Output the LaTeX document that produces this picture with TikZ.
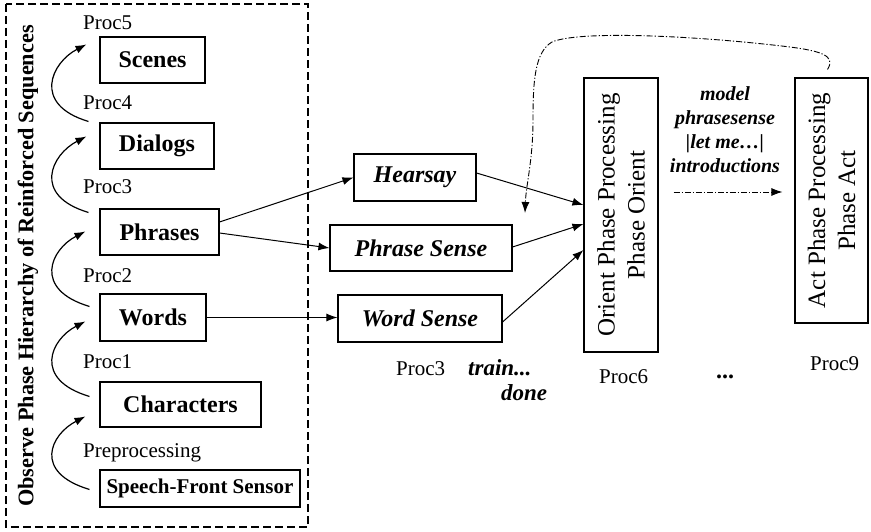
\documentclass[tikz,border=0pt]{standalone}
\usepackage{fontspec}
\setmainfont{Liberation Serif}
\usetikzlibrary{arrows.meta,calc}

\tikzset{
  blk/.style={draw, line width=1.1pt, inner sep=0pt,
    font=\bfseries\fontsize{24}{28}\selectfont},
  senseblk/.style={blk, font=\bfseries\itshape\fontsize{24}{28}\selectfont},
  phaseblk/.style={draw, line width=1.1pt, inner sep=0pt},
  phasetxt/.style={rotate=90, align=center, inner sep=0pt,
    font=\fontsize{25}{30}\selectfont},
  proc/.style={inner sep=0pt, anchor=base west, font=\fontsize{21}{25}\selectfont},
  note/.style={inner sep=0pt, font=\bfseries\itshape\fontsize{23}{27}\selectfont},
  link/.style={line width=1pt, -{Latex[length=11pt,width=8pt]}},
  climb/.style={line width=1.2pt, -{Latex[length=11pt,width=8pt]}},
  dashdot/.style={line width=0.9pt, dash pattern=on 6pt off 2pt on 1.2pt off 2pt},
  frame/.style={line width=1.3pt, dash pattern=on 8pt off 4pt},
}

\begin{document}
\begin{tikzpicture}[x=1pt,y=-1pt]
\useasboundingbox (0,0) rectangle (871,532);

% observe phase frame and its title
\draw[frame] (6,4) rectangle (308,527);
\node[rotate=90, inner sep=0pt, font=\bfseries\fontsize{22.3}{26}\selectfont]
  (observe) at (28,266) {Observe Phase Hierarchy of Reinforced Sequences};

% hierarchy of sequences
\node[blk, minimum width=105pt, minimum height=46pt] (scenes) at (152.5,60) {Scenes};
\node[blk, minimum width=114pt, minimum height=46pt] (dialogs) at (157,146) {Dialogs};
\node[blk, minimum width=119pt, minimum height=46pt] (phrases) at (159.5,232) {Phrases};
\node[blk, minimum width=106pt, minimum height=47pt] (words) at (153,317.5) {Words};
\node[blk, minimum width=161pt, minimum height=45pt] (characters) at (180.5,404.5) {Characters};
\node[blk, minimum width=200pt, minimum height=37pt,
  font=\bfseries\fontsize{21}{25}\selectfont] (speech) at (200,488.5) {Speech-Front Sensor};

\node[proc] (p5) at (83,30) {Proc5};
\node[proc] (p4) at (83,110) {Proc4};
\node[proc] (p3) at (83,194) {Proc3};
\node[proc] (p2) at (83,283) {Proc2};
\node[proc] (p1) at (83,368) {Proc1};
\node[proc] (pre) at (83,457) {Preprocessing};

% climbing arrows between levels
\draw[climb] ($(dialogs.north west)+(-11,-1)$) .. controls +(-57,-17) and +(-35,18) .. ($(scenes.north west)+(-13,8)$);
\draw[climb] ($(phrases.north west)+(-11,4)$) .. controls +(-57,-17) and +(-35,18) .. ($(dialogs.north west)+(-13,14)$);
\draw[climb] ($(words.north west)+(-10,13)$) .. controls +(-57,-17) and +(-35,18) .. ($(phrases.north west)+(-14,23)$);
\draw[climb] ($(characters.north west)+(-10,15)$) .. controls +(-57,-17) and +(-35,18) .. ($(words.north west)+(-14,28)$);
\draw[climb] ($(speech.north west)+(-10,20)$) .. controls +(-57,-17) and +(-35,18) .. ($(characters.north west)+(-14,35)$);

% sense boxes
\node[senseblk, minimum width=122pt, minimum height=47pt] (hearsay) at (415,177.5) {Hearsay};
\node[senseblk, minimum width=182pt, minimum height=46pt] (phrasesense) at (421,248) {Phrase Sense};
\node[senseblk, minimum width=164pt, minimum height=47pt] (wordsense) at (420,318.5) {Word Sense};

\node[proc] (pmid) at (396,375) {Proc3};
\node[note, anchor=base west] (train) at (468,375) {train...};
\node[note, anchor=base west] (done) at (501,400) {done};

% phase boxes
\node[phaseblk, minimum width=74pt, minimum height=274pt] (orient) at (621,215) {};
\node[phasetxt] (orienttxt) at (orient.center) {Orient Phase Processing\\Phase Orient};
\node[phaseblk, minimum width=73pt, minimum height=245pt] (act) at (831.5,200.5) {};
\node[phasetxt] (acttxt) at (act.center) {Act Phase Processing\\Phase Act};

\node[proc] (p6) at (599,383) {Proc6};
\node[proc] (p9) at (810,370) {Proc9};
\node[inner sep=0pt, font=\bfseries\fontsize{24}{28}\selectfont] (dots) at (725,377) {...};

\node[note, align=center, font=\bfseries\itshape\fontsize{20}{24}\selectfont]
  (model) at (725,130) {model\\phrasesense\\|let me…|\\introductions};

% connectors
\draw[link] ([yshift=10pt]phrases.east) -- (hearsay.west);
\draw[link] ([yshift=-1pt]phrases.east) -- (phrasesense.west);
\draw[link] (words.east) -- (words.east -| wordsense.west);
\draw[link] ([yshift=4.5pt]hearsay.east) -- ([yshift=10pt]orient.west);
\draw[link] ([yshift=1pt]phrasesense.east) -- ([yshift=-9pt]orient.west);
\draw[link] ([yshift=-3.5pt]wordsense.east) -- ([yshift=-35pt]orient.west);

% feedback paths between the phases
\coordinate (fbtip) at (525,213);
\draw[dashdot, -{Latex[length=11pt,width=8pt]}]
  ($(orient.east)+(15,-23)$) -- ($(act.west)+(-12,-8.5)$);
\draw[dashdot, -{Latex[length=11pt,width=8pt]}]
  ($(act.north)+(-4,-8)$) .. controls +(9,-14) and +(30,4) .. (790,47)
  .. controls (700,36) and (580,30) .. (552,42)
  .. controls (535,52) and (533,80) .. (533,120)
  .. controls (533,160) and (526,185) .. (fbtip);
\end{tikzpicture}
\end{document}
